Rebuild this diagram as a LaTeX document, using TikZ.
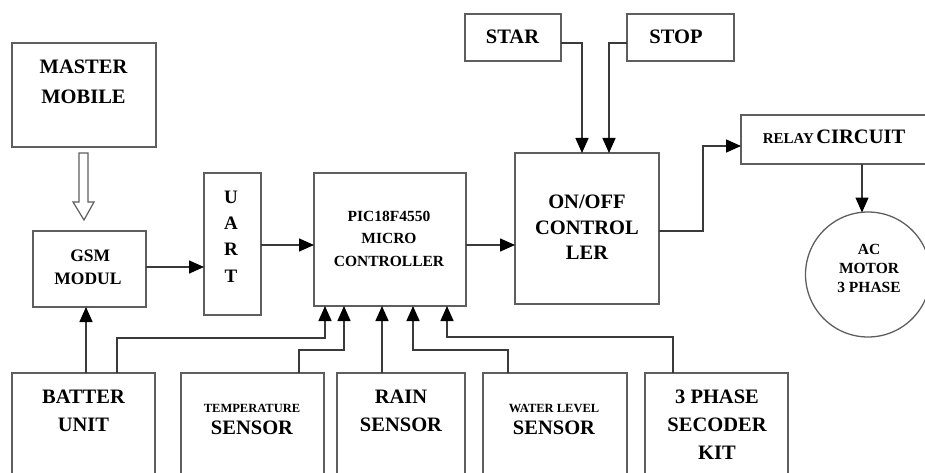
\documentclass[tikz,border=0pt]{standalone}
\usepackage{fontspec}
\setmainfont{Liberation Serif}
\usetikzlibrary{arrows.meta,calc}
\definecolor{boxgray}{HTML}{5E5E5E}
\definecolor{linegray}{HTML}{3A3A3A}
\newcommand{\fsz}[2]{\fontsize{#1}{#2}\selectfont}
\tikzset{
  box/.style={draw=boxgray, line width=1.3pt, inner sep=0pt, outer sep=0pt, rectangle},
  lbl/.style={inner sep=0pt, outer sep=0pt, align=center},
  conn/.style={draw=linegray, line width=1.5pt, -{Triangle[length=15pt,width=13pt,color=black]}},
  hollow/.style={draw=boxgray, line width=1.2pt, fill=white},
}
\begin{document}
\begin{tikzpicture}[x=1pt,y=-1pt]
\useasboundingbox (0,0) rectangle (925,473);
\clip (0,0) rectangle (925,473);
% boxes
\node[box, minimum width=144pt, minimum height=104pt] (master) at (84,95) {};
\node[box, minimum width=113pt, minimum height=76pt] (gsm) at (89.5,269) {};
\node[box, minimum width=57pt, minimum height=142pt] (uart) at (232.5,244) {};
\node[box, minimum width=152pt, minimum height=133pt] (pic) at (390,239.5) {};
\node[box, minimum width=96pt, minimum height=47pt] (star) at (513,37.5) {};
\node[box, minimum width=107pt, minimum height=47pt] (stop) at (680.5,37.5) {};
\node[box, minimum width=144pt, minimum height=151pt] (onoff) at (587,228.5) {};
\node[box, minimum width=204pt, minimum height=49pt] (relay) at (843,139.5) {};
\node[box, circle, minimum size=125pt] (motor) at (868,274.5) {};
\node[box, minimum width=143pt, minimum height=127pt] (batt) at (83.5,436.5) {};
\node[box, minimum width=143pt, minimum height=127pt] (temp) at (252.5,436.5) {};
\node[box, minimum width=128pt, minimum height=127pt] (rain) at (401,436.5) {};
\node[box, minimum width=144pt, minimum height=127pt] (water) at (555,436.5) {};
\node[box, minimum width=143pt, minimum height=127pt] (phase) at (716.5,436.5) {};
% labels
\node[lbl, font=\bfseries\fsz{20.5}{30}] (tmaster) at (83.5,82) {MASTER\\MOBILE};
\node[lbl, font=\bfseries\fsz{17.5}{23}] (tgsm) at (88,267.5) {\ GSM\\MODUL};
\node[lbl, font=\bfseries\fsz{19}{26.3}] (tuart) at (231,236.5) {U\\A\\R\\T};
\node[lbl, font=\bfseries\fsz{15.5}{22.5}] (tpic) at (389,238.5) {PIC18F4550\\MICRO\\CONTROLLER};
\node[lbl, font=\bfseries\fsz{20.5}{25}] (tstar) at (512.5,37) {STAR};
\node[lbl, font=\bfseries\fsz{20.5}{25}] (tstop) at (676,37) {STOP};
\node[lbl, font=\bfseries\fsz{20.5}{25.5}] (tonoff) at (587,227.5) {ON/OFF\\CONTROL\\LER};
\node[lbl, font=\bfseries] (trelay) at (834,137) {{\fsz{15}{18}RELAY} {\fsz{20.5}{25}CIRCUIT}};
\node[lbl, font=\bfseries\fsz{15.5}{19}] (tmotor) at (869,268) {AC\\MOTOR\\3 PHASE};
\node[lbl, font=\bfseries\fsz{20.5}{28}] (tbatt) at (83.5,411) {BATTER\\UNIT};
\node[lbl, font=\bfseries\fsz{12.5}{14}] (ttempa) at (252,408) {TEMPERATURE};
\node[lbl, font=\bfseries\fsz{20.5}{25}] (ttempb) at (252,428) {SENSOR};
\node[lbl, font=\bfseries\fsz{20.5}{28}] (train) at (401,411) {RAIN\\SENSOR};
\node[lbl, font=\bfseries\fsz{12.5}{14}] (twatera) at (554,408) {WATER LEVEL};
\node[lbl, font=\bfseries\fsz{20.5}{25}] (twaterb) at (554,428) {SENSOR};
\node[lbl, font=\bfseries\fsz{20.5}{28}] (tphase) at (717,425) {3 PHASE\\SECODER\\KIT};
% hollow arrow master -> gsm
\draw[hollow] ($(master.south)+(-5,6)$) -- ++(0,49) -- ++(-6,0) -- ($(gsm.north -| master.south)+(0,-11)$) -- ++(10,-18) -- ++(-6,0) -- ++(0,-49) -- cycle;
% connectors
\draw[conn] (gsm.east |- 0,267) -- (uart.west |- 0,267);
\draw[conn] (uart.east |- 0,245) -- (pic.west |- 0,245);
\draw[conn] (pic.east |- 0,245) -- (onoff.west |- 0,245);
\draw[conn] (star.east |- 0,43) -| (onoff.north -| 582,0);
\draw[conn] (stop.west |- 0,43) -| (onoff.north -| 609,0);
\coordinate (rbend) at (703,146);
\draw[conn] (onoff.east |- 0,231) -| (rbend) -- (relay.west |- rbend);
\draw[conn] (relay.south -| 862,0) -- ($(motor.north -| 862,0)+(0,0.5)$);
\draw[conn] (batt.north -| 86,0) -- (gsm.south -| 86,0);
\coordinate (b1) at (325,338);
\draw[conn] (batt.north -| 117,0) |- (b1) -- (b1 |- pic.south);
\coordinate (b2) at (344,350);
\draw[conn] (temp.north -| 299,0) |- (b2) -- (b2 |- pic.south);
\draw[conn] (rain.north -| 382,0) -- (pic.south -| 382,0);
\coordinate (b3) at (413,350);
\draw[conn] (water.north -| 508,0) |- (b3) -- (b3 |- pic.south);
\coordinate (b4) at (447,337);
\draw[conn] (phase.north -| 673,0) |- (b4) -- (b4 |- pic.south);
\end{tikzpicture}
\end{document}
